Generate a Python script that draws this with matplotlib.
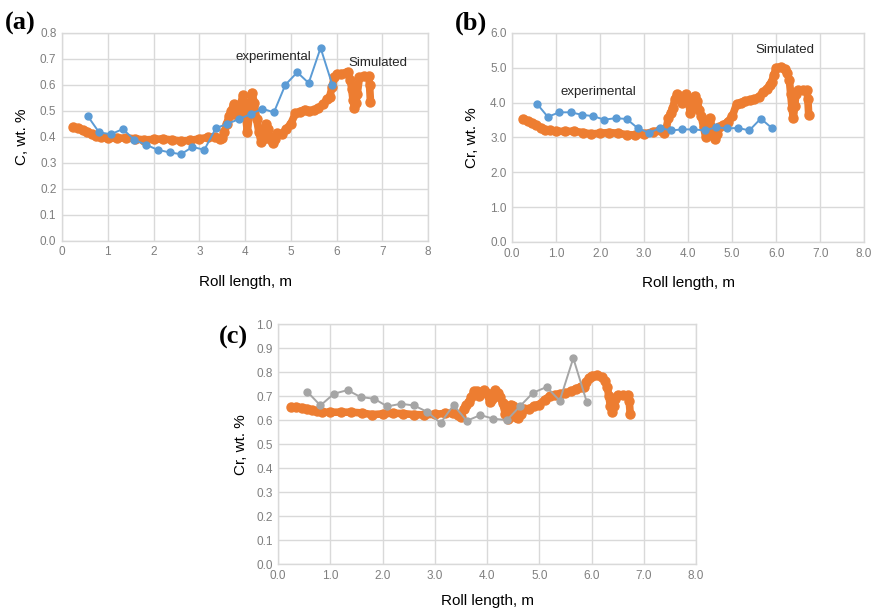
import numpy as np
import matplotlib
matplotlib.use("Agg")
import matplotlib.pyplot as plt

plt.rcParams['font.family'] = ['Liberation Sans', 'DejaVu Sans']

# experimental measurements (same roll positions in all panels)
exp_x = [0.56, 0.81, 1.07, 1.33, 1.58, 1.84, 2.09, 2.35, 2.60, 2.85, 3.11,
         3.36, 3.61, 3.87, 4.12, 4.38, 4.63, 4.88, 5.14, 5.39, 5.65, 5.91]
exp_c = [0.48, 0.417, 0.41, 0.43, 0.388, 0.369, 0.35, 0.34, 0.333, 0.361, 0.35,
         0.433, 0.45, 0.468, 0.487, 0.508, 0.494, 0.60, 0.648, 0.607, 0.742, 0.598]
exp_cr_b = [3.97, 3.59, 3.72, 3.72, 3.65, 3.61, 3.51, 3.55, 3.53, 3.27, 3.13,
            3.27, 3.20, 3.23, 3.23, 3.20, 3.29, 3.26, 3.27, 3.20, 3.54, 3.26]
exp_cr_c = [0.718, 0.661, 0.71, 0.725, 0.696, 0.689, 0.657, 0.668, 0.661, 0.635, 0.588,
            0.663, 0.597, 0.621, 0.606, 0.60, 0.658, 0.714, 0.738, 0.681, 0.858, 0.674]

# simulated profiles
sim_x = [0.25, 0.35, 0.45, 0.55, 0.65, 0.75, 0.85, 1.0, 1.2, 1.4, 1.6, 1.8, 2.0,
         2.2, 2.4, 2.6, 2.8, 3.0, 3.2, 3.35, 3.45, 3.5, 3.55, 3.6, 3.65, 3.7,
         3.75, 3.8, 3.85, 3.9, 3.95, 4.0, 4.05, 4.1, 4.15, 4.2, 4.25, 4.3, 4.35,
         4.4, 4.45, 4.5, 4.55, 4.6, 4.65, 4.7, 4.8, 4.9, 5.0, 5.1, 5.2, 5.3, 5.4,
         5.5, 5.6, 5.7, 5.8, 5.85, 5.9, 5.95, 6.0, 6.1, 6.2, 6.25, 6.3, 6.33,
         6.36, 6.39, 6.42, 6.45, 6.5, 6.6, 6.7, 6.72, 6.74]
sim_c = [0.436, 0.432, 0.427, 0.42, 0.41, 0.402, 0.398, 0.395, 0.394, 0.396, 0.392,
         0.388, 0.39, 0.392, 0.388, 0.384, 0.386, 0.392, 0.398, 0.40, 0.39, 0.395,
         0.42, 0.45, 0.48, 0.50, 0.525, 0.52, 0.48, 0.52, 0.56, 0.50, 0.42, 0.50,
         0.57, 0.53, 0.47, 0.42, 0.38, 0.39, 0.45, 0.43, 0.39, 0.375, 0.39, 0.415,
         0.41, 0.43, 0.45, 0.49, 0.497, 0.505, 0.50, 0.502, 0.51, 0.525, 0.545,
         0.555, 0.59, 0.63, 0.64, 0.643, 0.645, 0.65, 0.62, 0.585, 0.54, 0.51,
         0.53, 0.565, 0.63, 0.633, 0.633, 0.60, 0.535]
sim_cr_b = [3.52, 3.48, 3.42, 3.36, 3.28, 3.22, 3.20, 3.18, 3.17, 3.18, 3.14, 3.10,
            3.12, 3.14, 3.12, 3.08, 3.07, 3.10, 3.16, 3.20, 3.12, 3.25, 3.55, 3.70,
            3.85, 4.10, 4.25, 4.20, 4.00, 4.15, 4.25, 4.10, 3.70, 4.00, 4.20, 4.05,
            3.80, 3.60, 3.30, 3.00, 3.30, 3.55, 3.20, 2.95, 3.10, 3.30, 3.35, 3.45,
            3.60, 3.95, 4.00, 4.05, 4.07, 4.10, 4.15, 4.30, 4.40, 4.50, 4.60, 4.80,
            5.00, 5.02, 4.95, 4.85, 4.65, 4.25, 3.85, 3.55, 3.90, 4.25, 4.35, 4.36,
            4.35, 4.10, 3.65]
sim_cr_c = [0.655, 0.655, 0.652, 0.648, 0.642, 0.636, 0.633, 0.633, 0.633, 0.633,
            0.63, 0.623, 0.626, 0.629, 0.627, 0.623, 0.622, 0.624, 0.628, 0.628,
            0.62, 0.615, 0.645, 0.665, 0.675, 0.695, 0.72, 0.72, 0.70, 0.715, 0.725,
            0.715, 0.675, 0.69, 0.725, 0.715, 0.695, 0.67, 0.625, 0.605, 0.665, 0.66,
            0.615, 0.61, 0.625, 0.645, 0.645, 0.66, 0.665, 0.685, 0.70, 0.705, 0.71,
            0.712, 0.72, 0.73, 0.74, 0.74, 0.76, 0.775, 0.785, 0.787, 0.78, 0.765,
            0.74, 0.70, 0.66, 0.635, 0.66, 0.69, 0.705, 0.705, 0.705, 0.68, 0.625]

BLUE = "#5B9BD5"
ORANGE = "#ED7D31"
GREY = "#A5A5A5"
GRID = "#D9D9D9"
TICK = "#7F7F7F"


def style(ax, xmax, xfmt, ymax, ystep, yfmt):
    ax.set_xlim(0, xmax)
    ax.set_ylim(0, ymax)
    ax.set_xticks(np.arange(0, xmax + 0.01, 1.0))
    ax.set_xticklabels([xfmt.format(v) for v in np.arange(0, xmax + 0.01, 1.0)])
    yt = np.arange(0, ymax + ystep / 2, ystep)
    ax.set_yticks(yt)
    ax.set_yticklabels([yfmt.format(v) for v in yt])
    ax.grid(True, color=GRID, lw=1)
    ax.set_axisbelow(True)
    for s in ax.spines.values():
        s.set_color(GRID)
        s.set_linewidth(1)
    ax.tick_params(length=0, labelsize=8.5, labelcolor=TICK, pad=4)


def draw_sim(ax, y):
    ax.plot(sim_x, y, color=ORANGE, lw=5.5, marker="o", ms=6.5,
            solid_capstyle="round", solid_joinstyle="round", zorder=3)


def draw_exp(ax, y, col):
    ax.plot(exp_x, y, color=col, lw=1.4, marker="o", ms=5, zorder=4)


fig = plt.figure(figsize=(8.8, 6.08), dpi=100)

# (a) carbon
ax1 = fig.add_axes([0.0705, 0.604, 0.416, 0.342])
draw_sim(ax1, sim_c)
draw_exp(ax1, exp_c, BLUE)
style(ax1, 8, "{:.0f}", 0.8, 0.1, "{:.1f}")
ax1.set_xlabel("Roll length, m", fontsize=11, labelpad=12)
ax1.set_ylabel("C, wt. %", fontsize=11, labelpad=8)
ax1.text(3.8, 0.708, "experimental", fontsize=9.5, va="center", color="#262626")
ax1.text(6.25, 0.685, "Simulated", fontsize=9.5, va="center", color="#262626")

# (b) chromium
ax2 = fig.add_axes([0.582, 0.602, 0.400, 0.344])
draw_sim(ax2, sim_cr_b)
draw_exp(ax2, exp_cr_b, BLUE)
style(ax2, 8, "{:.1f}", 6.0, 1.0, "{:.1f}")
ax2.set_xlabel("Roll length, m", fontsize=11, labelpad=12)
ax2.set_ylabel("Cr, wt. %", fontsize=11, labelpad=8)
ax2.text(1.09, 4.31, "experimental", fontsize=9.5, va="center", color="#262626")
ax2.text(5.52, 5.51, "Simulated", fontsize=9.5, va="center", color="#262626")

# (c) chromium, second roll
ax3 = fig.add_axes([0.316, 0.072, 0.475, 0.395])
draw_sim(ax3, sim_cr_c)
draw_exp(ax3, exp_cr_c, GREY)
style(ax3, 8, "{:.1f}", 1.0, 0.1, "{:.1f}")
ax3.set_xlabel("Roll length, m", fontsize=11, labelpad=9)
ax3.set_ylabel("Cr, wt. %", fontsize=11, labelpad=6)

for lab, x, y in [("(a)", 0.005, 0.952), ("(b)", 0.517, 0.952), ("(c)", 0.249, 0.435)]:
    fig.text(x, y, lab, fontsize=19, fontweight="bold",
             family=["Liberation Serif", "DejaVu Serif"])

fig.savefig("out.png", dpi=100)
